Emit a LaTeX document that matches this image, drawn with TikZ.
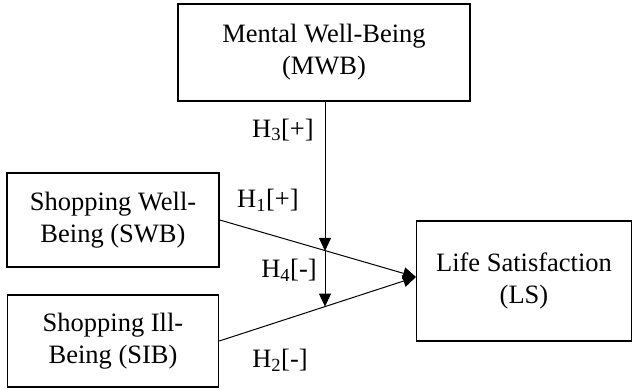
\documentclass[tikz,border=0pt]{standalone}
\usepackage{fontspec}
\setmainfont{Liberation Serif}
\usetikzlibrary{arrows.meta}
\tikzset{
  boxnode/.style={draw, line width=1.6pt, align=center, inner sep=0pt,
    font=\fontsize{26.5}{32}\selectfont},
  conn/.style={line width=1pt, -{Triangle[length=13pt,width=12pt]}},
  hlabel/.style={font=\fontsize{26.5}{32}\selectfont, inner sep=0pt}
}
\begin{document}
\begin{tikzpicture}[x=1pt,y=1pt]
\useasboundingbox (0,0) rectangle (633,390);
\node[boxnode, minimum width=292pt, minimum height=97pt] (MWB) at (324,337.5) {Mental Well-Being\\(MWB)};
\node[boxnode, minimum width=212pt, minimum height=94pt] (SWB) at (113,170) {Shopping Well-\\Being (SWB)};
\node[boxnode, minimum width=211pt, minimum height=92pt] (SIB) at (113,49) {Shopping Ill-\\Being (SIB)};
\node[boxnode, minimum width=215pt, minimum height=120pt] (LS) at (524,109) {Life Satisfaction\\(LS)};
\coordinate (tgt) at (416,113);
\coordinate (j1) at (325,139);
\coordinate (j2) at (325,83.4);
\draw[conn] (SWB.east) -- (tgt);
\draw[conn] (SIB.east) -- (tgt);
\draw[conn] (MWB.south -| j1) -- (j1);
\draw[conn] (j1) -- (j2);
\node[hlabel] (h3) at (283,260) {H\textsubscript{3}[+]};
\node[hlabel] (h1) at (268,190) {H\textsubscript{1}[+]};
\node[hlabel] (h4) at (289,120) {H\textsubscript{4}[-]};
\node[hlabel] (h2) at (280,30) {H\textsubscript{2}[-]};
\end{tikzpicture}
\end{document}
